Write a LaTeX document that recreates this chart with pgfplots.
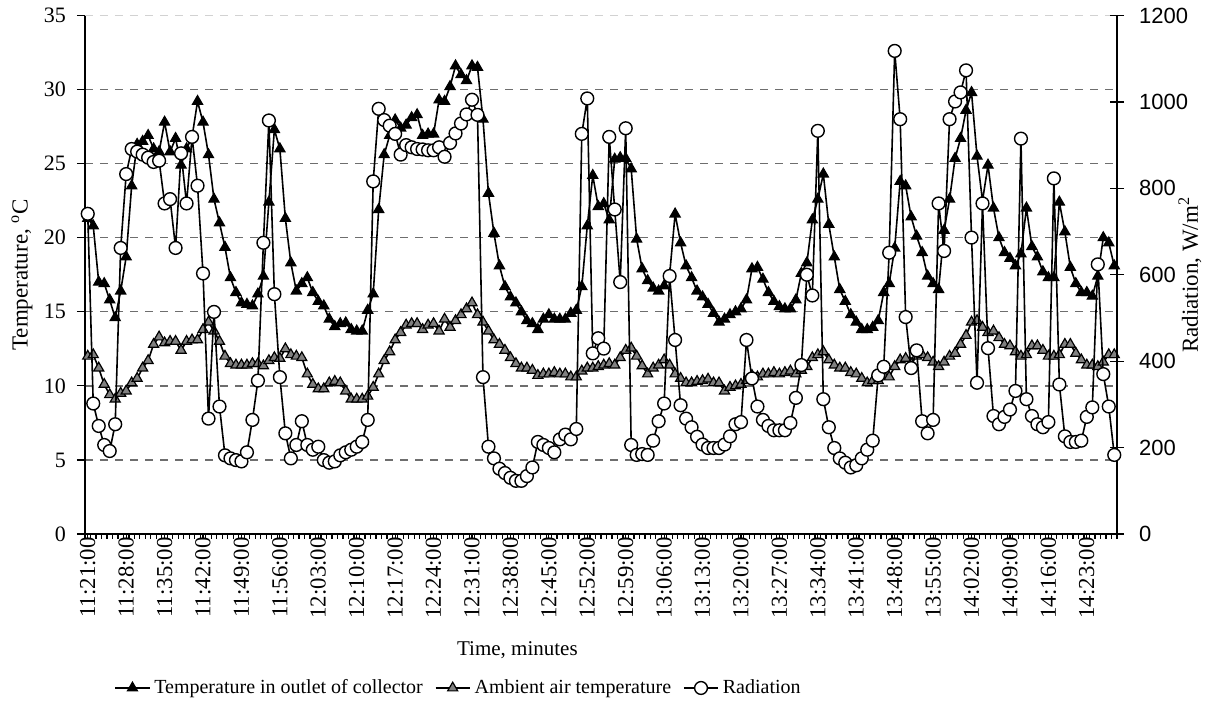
\documentclass[border=0pt]{standalone}
\usepackage{fontspec}
\setmainfont{Liberation Serif}
\newfontfamily\arialf{Liberation Sans}
\usepackage{pgfplots}
\usepackage{pgfplotstable}
\pgfplotsset{compat=1.18}
\definecolor{ambgray}{RGB}{128,128,128}
\definecolor{gridgray}{RGB}{110,110,110}

\pgfplotstableread{
i tout tamb rad
0 21.3 12.0 741
1 20.8 12.1 302
2 17.0 11.2 250
3 16.9 10.1 206
4 15.8 9.4 192
5 14.6 9.1 254
6 16.4 9.5 662
7 18.7 9.65 833
8 23.5 10.2 891
9 26.3 10.5 885
10 26.5 11.2 878
11 26.9 11.7 871
12 26.0 12.8 861
13 25.8 13.3 864
14 27.8 12.9 765
15 25.8 13.0 775
16 26.7 13.0 662
17 24.9 12.4 881
18 26.0 13.0 765
19 26.8 13.1 919
20 29.2 13.1 806
21 27.8 13.8 603
22 25.6 14.3 267
23 22.6 13.7 514
24 21.0 13.0 295
25 19.35 12.0 182
26 17.3 11.5 175
27 16.3 11.4 171
28 15.6 11.4 168
29 15.5 11.4 189
30 15.4 11.5 264
31 16.2 11.5 355
32 17.4 11.35 674
33 22.4 11.7 957
34 27.3 11.9 555
35 26.0 11.85 363
36 21.3 12.5 233
37 18.3 12.1 175
38 16.4 12.0 206
39 16.9 11.9 261
40 17.3 10.8 206
41 16.3 10.1 195
42 15.7 9.8 202
43 15.4 9.8 171
44 14.5 10.2 165
45 14.0 10.3 168
46 14.2 10.2 182
47 14.25 9.65 189
48 13.8 9.1 195
49 13.7 9.1 202
50 13.7 9.1 213
51 15.1 9.3 264
52 16.2 9.9 816
53 21.9 10.8 984
54 25.6 11.7 958
55 26.9 12.3 945
56 27.95 13.1 926
57 27.4 13.6 878
58 27.6 14.1 900
59 28.1 14.2 895
60 28.3 14.2 891
61 26.9 13.8 890
62 27.0 14.1 888
63 27.0 14.2 888
64 29.3 13.7 895
65 29.2 14.5 873
66 30.2 13.95 905
67 31.6 14.4 927
68 31.0 14.8 950
69 30.6 15.2 971
70 31.6 15.6 1005
71 31.5 14.8 970
72 28.0 14.3 363
73 23.0 13.7 202
74 20.3 13.1 175
75 18.1 12.8 151
76 16.7 12.4 141
77 16.0 11.9 130
78 15.6 11.5 123
79 15.0 11.2 123
80 14.4 11.2 134
81 14.2 11.05 154
82 13.8 10.7 213
83 14.5 10.8 206
84 14.8 10.8 199
85 14.5 10.9 189
86 14.5 10.8 219
87 14.5 10.8 230
88 14.9 10.6 219
89 15.1 10.6 243
90 16.7 11.0 926
91 20.8 11.2 1008
92 24.2 11.2 418
93 22.1 11.3 453
94 22.3 11.4 429
95 21.2 11.5 919
96 25.3 11.4 751
97 25.4 11.9 583
98 25.35 12.4 939
99 24.65 12.55 206
100 19.9 12.0 183
101 17.9 11.35 185
102 17.1 10.8 183
103 16.6 11.2 216
104 16.4 11.4 261
105 16.75 11.75 302
106 17.5 11.4 597
107 21.6 10.8 449
108 19.65 10.5 298
109 18.1 10.2 267
110 17.3 10.2 247
111 16.4 10.3 225
112 16.0 10.35 207
113 15.5 10.45 199
114 14.9 10.2 199
115 14.3 10.2 199
116 14.5 9.65 207
117 14.8 9.9 226
118 15.0 10.0 254
119 15.2 10.1 259
120 15.8 10.35 449
121 17.9 10.7 360
122 18.0 10.6 295
123 17.2 10.8 264
124 16.3 10.8 250
125 15.7 10.9 240
126 15.35 10.8 240
127 15.2 10.9 240
128 15.2 11.0 257
129 15.8 10.8 315
130 17.6 11.05 391
131 18.3 11.3 600
132 21.2 11.9 552
133 22.6 12.1 933
134 24.3 12.3 312
135 20.9 11.75 247
136 18.7 11.4 199
137 16.5 11.2 175
138 15.7 11.2 165
139 14.8 10.9 154
140 14.3 10.8 159
141 13.8 10.5 175
142 13.8 10.2 195
143 13.95 10.35 216
144 14.4 10.35 367
145 16.3 10.7 387
146 16.9 10.6 651
147 19.3 11.3 1118
148 23.8 11.75 960
149 23.5 11.85 502
150 21.4 11.5 384
151 20.1 12.0 425
152 19.0 12.1 261
153 17.4 11.9 233
154 16.9 11.6 264
155 16.5 11.3 765
156 20.5 11.6 655
157 22.6 12.0 960
158 25.35 12.2 1001
159 26.7 12.8 1022
160 28.6 13.4 1073
161 29.8 14.3 686
162 25.5 14.4 350
163 22.5 13.95 765
164 24.9 13.6 430
165 22.0 13.7 273
166 20.0 13.25 254
167 19.0 12.8 271
168 18.6 12.7 288
169 18.1 12.3 331
170 18.9 12.0 915
171 22.0 12.1 312
172 19.4 12.7 273
173 18.7 12.7 254
174 17.7 12.4 247
175 17.3 12.0 259
176 17.3 12.0 823
177 22.4 12.1 346
178 20.4 12.8 226
179 18.0 12.8 213
180 16.9 12.2 213
181 16.3 11.75 216
182 16.3 11.4 271
183 16.05 11.4 293
184 17.4 11.3 624
185 20.0 11.6 370
186 19.65 12.1 295
187 18.1 12.1 183
}\datatab

\pgfplotsset{
  common/.style={
    at={(42.5pt,90.5pt)}, anchor=south west,
    scale only axis, width=516pt, height=259.25pt,
    xmin=-0.5, xmax=187.5,
    axis line style={black, line width=0.6pt},
    every tick/.style={black, line width=0.6pt},
    /pgf/number format/assume math mode=true,
    /pgf/number format/set thousands separator={},
  },
  toutstyle/.style={black, line width=0.8pt, mark=triangle*, mark size=2.9pt,
    mark options={solid, fill=black, draw=black, line width=0.6pt}},
  tambstyle/.style={black, line width=0.8pt, mark=triangle*, mark size=2.9pt,
    mark options={solid, fill=ambgray, draw=black, line width=0.6pt}},
  radstyle/.style={black, line width=0.8pt, mark=*, mark size=3.2pt,
    mark options={solid, fill=white, draw=black, line width=0.7pt}},
}

\begin{document}
\begin{tikzpicture}[x=1pt,y=1pt]
\useasboundingbox (0,0) rectangle (610.5,357.5);
\begin{axis}[
  common,
  ymin=0, ymax=35,
  axis x line*=bottom, axis y line*=left,
  ytick={0,5,...,30},
  extra y ticks={35},
  extra y tick style={grid style={gray!35, dash pattern=on 4pt off 3.5pt, line width=0.6pt}},
  ymajorgrids,
  grid style={gridgray, dash pattern=on 4pt off 3.5pt, line width=0.7pt},
  xtick={-0.5,0.5,...,187.5},
  xticklabels={},
  x tick style={/pgfplots/major tick length=2.5pt},
  extra x ticks={0,7,...,182},
  extra x tick labels={11:21:00,11:28:00,11:35:00,11:42:00,11:49:00,11:56:00,12:03:00,12:10:00,12:17:00,12:24:00,12:31:00,12:38:00,12:45:00,12:52:00,12:59:00,13:06:00,13:13:00,13:20:00,13:27:00,13:34:00,13:41:00,13:48:00,13:55:00,14:02:00,14:09:00,14:16:00,14:23:00},
  extra x tick style={major tick length=0pt, tick label style={rotate=90, anchor=east, font=\fontsize{11.4}{13}\selectfont, inner sep=1.5pt}},
  tick align=outside,
  major tick length=4pt,
  y tick label style={font=\fontsize{11}{13}\selectfont, xshift=-2pt},
  ylabel={Temperature, \textsuperscript{o}C},
  ylabel style={at={(axis description cs:-0.061,0.5)}, anchor=center, font=\fontsize{11.5}{13}\selectfont},
  xlabel={Time, minutes},
  xlabel style={at={(axis description cs:0.419,-0.224)}, anchor=center, font=\fontsize{10.5}{12}\selectfont},
]
\addplot[toutstyle] table[x=i, y=tout] {\datatab};
\addplot[tambstyle] table[x=i, y=tamb] {\datatab};
\end{axis}
\begin{axis}[
  common,
  ymin=0, ymax=1200,
  axis x line=none, axis y line*=right,
  ytick={0,200,...,1200},
  tick align=center,
  major tick length=7pt,
  y tick label style={font=\arialf\fontsize{11}{13}\selectfont, xshift=4pt},
  ylabel={Radiation, W/m\textsuperscript{2}},
  ylabel style={at={(axis description cs:1.0707,0.5)}, anchor=center, font=\fontsize{11.5}{13}\selectfont},
  legend style={at={(axis description cs:0.363,-0.297)}, anchor=center, draw=none, fill=none,
    legend columns=3, font=\fontsize{10}{12}\selectfont,
    /tikz/every even column/.append style={column sep=4pt}},
  legend cell align=left,
]
\addlegendimage{toutstyle}
\addlegendentry{Temperature in outlet of collector}
\addlegendimage{tambstyle}
\addlegendentry{Ambient air temperature}
\addplot[radstyle] table[x=i, y=rad] {\datatab};
\addlegendentry{Radiation}
\end{axis}
\end{tikzpicture}
\end{document}
